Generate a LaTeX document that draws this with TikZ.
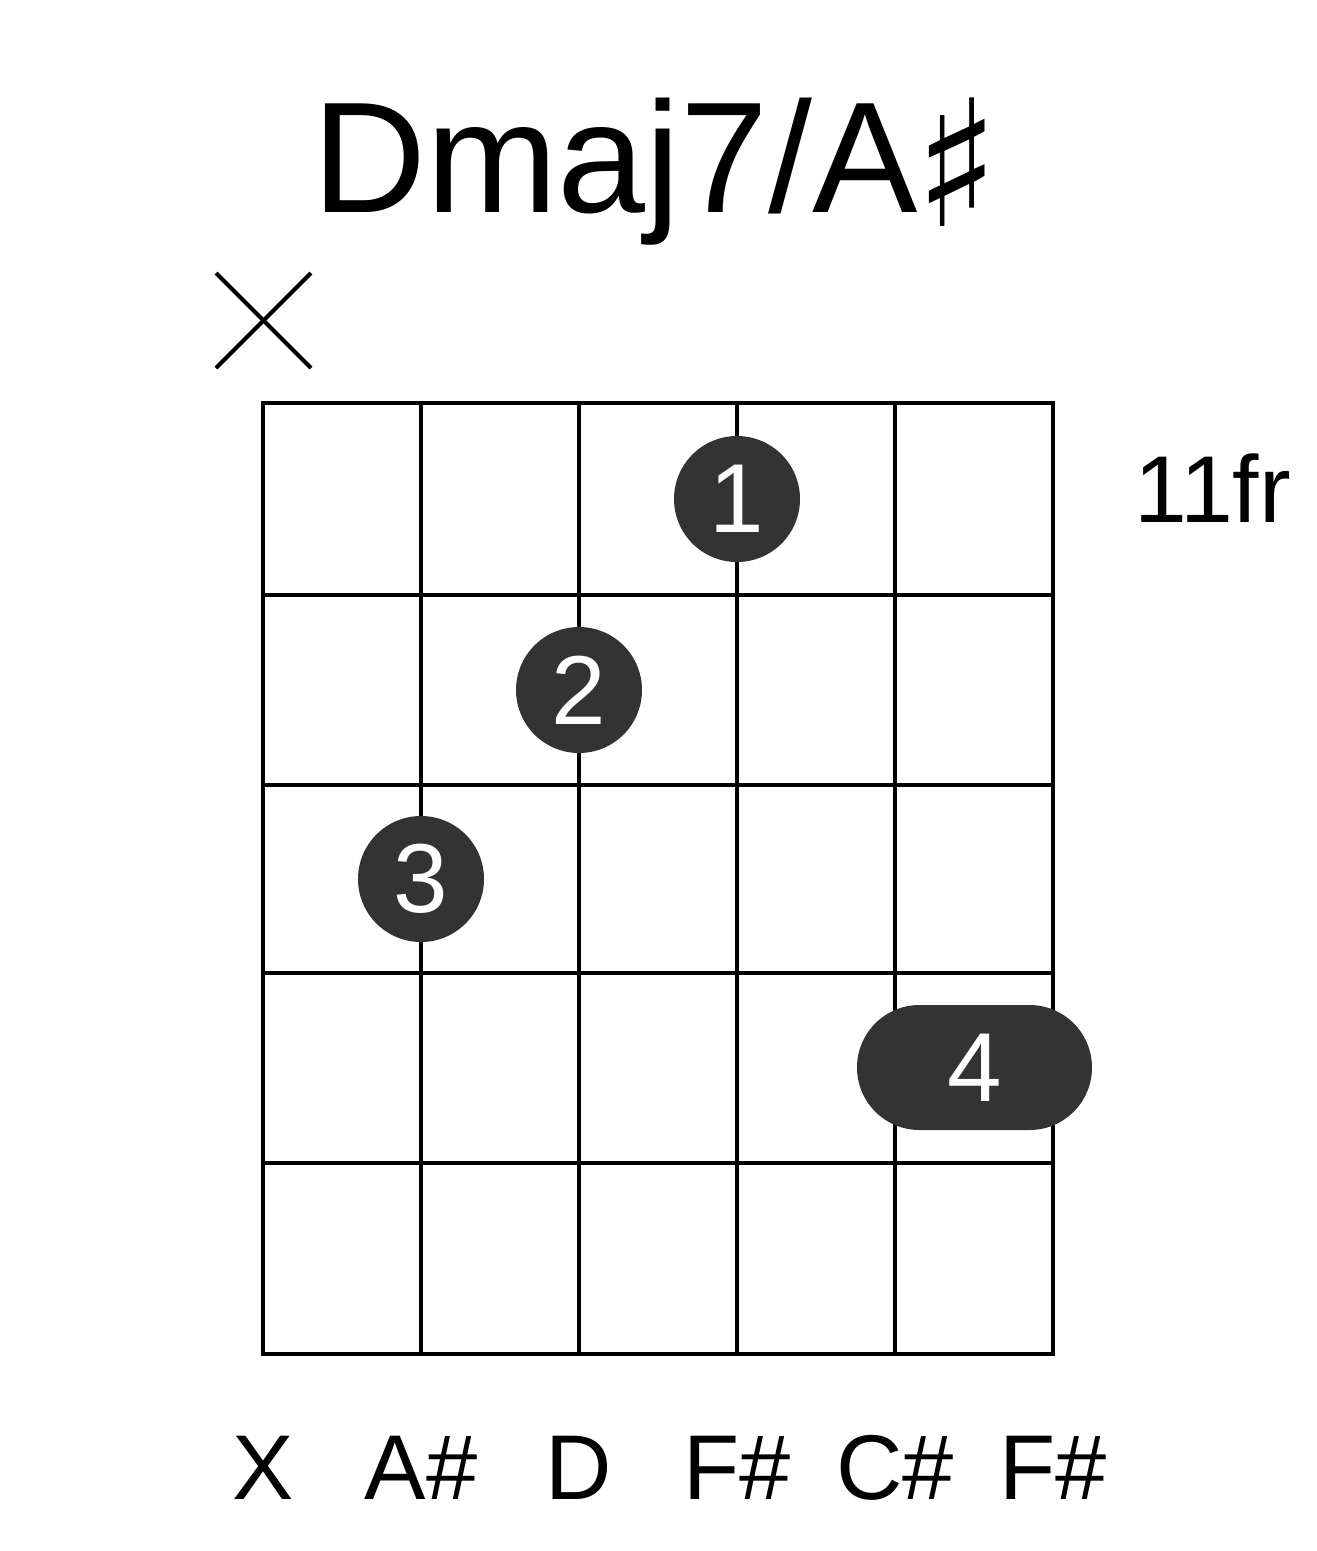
\documentclass[tikz,border=0pt]{standalone}
\usepackage{fontspec}
\setmainfont{Liberation Sans}
\newfontfamily\simbolo{DejaVu Sans}
\usetikzlibrary{positioning}
\definecolor{cinza}{RGB}{51, 51, 51}
\tikzset{
  grade/.style={line width=4.5pt, black},
  xis/.style={line width=4pt, black},
  dedo/.style={
    circle, fill=cinza, text=white, inner sep=0pt, minimum size=126pt,
    font=\fontsize{98}{100}\selectfont
  },
  pestana/.style={
    fill=cinza, text=white, inner sep=0pt, rounded corners=62.5pt,
    minimum width=235pt, minimum height=125pt,
    font=\fontsize{98}{100}\selectfont
  },
  nota/.style={anchor=base, inner sep=0pt, font=\fontsize{92}{94}\selectfont},
}
\begin{document}
\begin{tikzpicture}[
    x=1pt, y=-1pt,
    titulo/.style={
        anchor=base west,
        inner sep=0pt,
        font=\fontsize{158}{160}\selectfont
    },
    casa/.style={
        anchor=base west,
        inner sep=0pt,
        font=\fontsize{95}{97}\selectfont
    }
]
\useasboundingbox (0,0) rectangle (1317,1551);

% Titulo
\node[titulo] (titulo) at (312,212) {Dmaj7/A\kern-4pt\raisebox{-14pt}{\simbolo\fontsize{176}{176}\selectfont ♯}};

% Corda abafada
\coordinate (xa) at (216,273);
\coordinate (xb) at (311,368);
\coordinate (xc) at (216,368);
\coordinate (xd) at (311,273);
\draw[xis] (xa) -- (xb);
\draw[xis] (xc) -- (xd);

% Braco
\draw[grade] (263,403) rectangle (1053,1354);
\draw[grade] (421,403) -- (421,1354);
\draw[grade] (579,403) -- (579,1354);
\draw[grade] (737,403) -- (737,1354);
\draw[grade] (895,403) -- (895,1354);
\draw[grade] (263,595) -- (1053,595);
\draw[grade] (263,785) -- (1053,785);
\draw[grade] (263,973) -- (1053,973);
\draw[grade] (263,1163) -- (1053,1163);

% Casa inicial
\node[casa] (casa) at (1134,522) {11fr};

% Dedos
\node[dedo] (d1) at (737,499) {1};
\node[dedo] (d2) at (579,690) {2};
\node[dedo] (d3) at (421,879) {3};
\node[pestana] (d4) at (974.5,1067.5) {4};

% Notas
\node[nota] (n1) at (263,1499) {X};
\node[nota] (n2) at (421,1499) {A\#};
\node[nota] (n3) at (579,1499) {D};
\node[nota] (n4) at (737,1499) {F\#};
\node[nota] (n5) at (895,1499) {C\#};
\node[nota] (n6) at (1053,1499) {F\#};

\end{tikzpicture}
\end{document}
